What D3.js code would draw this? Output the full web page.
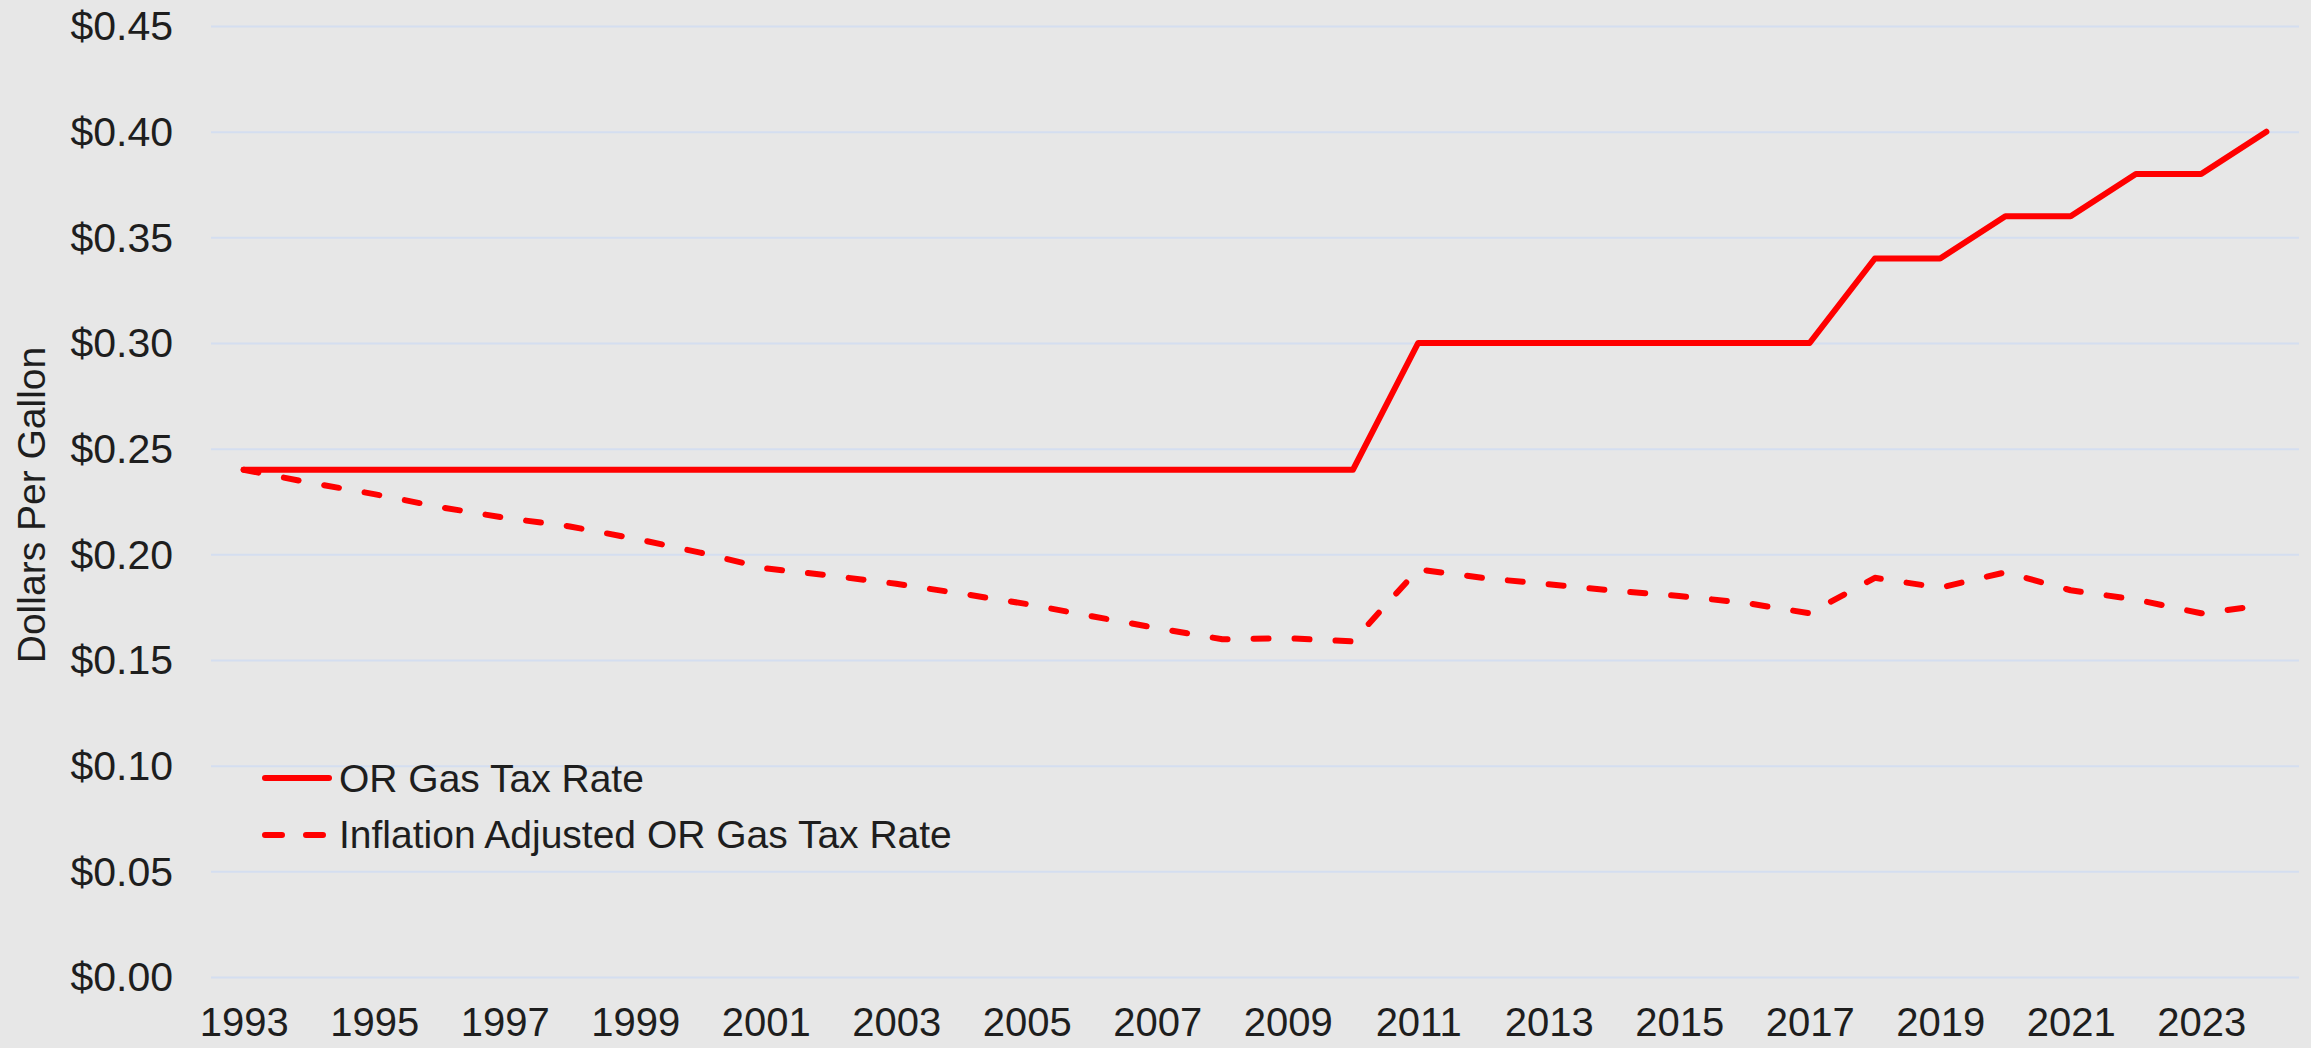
<!DOCTYPE html>
<html>
<head>
<meta charset="utf-8">
<script src="https://cdn.jsdelivr.net/npm/d3@7"></script>
<style>
  html, body { margin: 0; padding: 0; background: #e7e7e7; }
  svg { display: block; }
  text { font-family: "Liberation Sans", Arial, sans-serif; fill: #1e1e1e; }
</style>
</head>
<body>
<div id="chart"></div>
<script>

// years on the category axis
var years = [1993, 1994, 1995, 1996, 1997, 1998, 1999, 2000, 2001, 2002, 2003,
    2004, 2005, 2006, 2007, 2008, 2009, 2010, 2011, 2012, 2013, 2014, 2015,
    2016, 2017, 2018, 2019, 2020, 2021, 2022, 2023, 2024];

// nominal Oregon gas tax, dollars per gallon
var orRate = [0.24, 0.24, 0.24, 0.24, 0.24, 0.24, 0.24, 0.24, 0.24, 0.24, 0.24,
    0.24, 0.24, 0.24, 0.24, 0.24, 0.24, 0.24, 0.30, 0.30, 0.30, 0.30, 0.30,
    0.30, 0.30, 0.34, 0.34, 0.36, 0.36, 0.38, 0.38, 0.40];

// inflation adjusted rate
var inflationRate = [0.240, 0.234, 0.2285, 0.2224, 0.2173, 0.2132, 0.2074, 0.2008,
    0.1934, 0.1899, 0.1861, 0.1814, 0.1765, 0.1707, 0.1651, 0.1598, 0.1603,
    0.1588, 0.1929, 0.1888, 0.1858, 0.1828, 0.1803, 0.1771, 0.1721, 0.1889,
    0.1842, 0.1915, 0.1830, 0.1786, 0.1721, 0.1760];

var yTicks = [0, 0.05, 0.10, 0.15, 0.20, 0.25, 0.30, 0.35, 0.40, 0.45];
var xTickYears = [1993, 1995, 1997, 1999, 2001, 2003, 2005, 2007, 2009, 2011,
    2013, 2015, 2017, 2019, 2021, 2023];

var seriesNames = ["OR Gas Tax Rate", "Inflation Adjusted OR Gas Tax Rate"];

function main() {

    var W = 2311, H = 1048;
    var plot = { left: 211, right: 2299, top: 26, bottom: 977 };

    var svg = d3.select("#chart")
        .append("svg")
        .attr("width", W)
        .attr("height", H);

    svg.append("rect")
        .attr("width", W)
        .attr("height", H)
        .attr("fill", "#e7e7e7");

    // x is a category axis, points sit in the middle of each slot
    var x = d3.scalePoint()
        .domain(years)
        .range([plot.left, plot.right])
        .padding(0.5);

    var y = d3.scaleLinear()
        .domain([0, 0.45])
        .range([plot.bottom, plot.top]);

    // y axis with gridlines
    var yAxis = svg.append("g")
        .attr("transform", "translate(" + plot.left + ",0)")
        .call(d3.axisLeft(y)
            .tickValues(yTicks)
            .tickSize(-(plot.right - plot.left))
            .tickPadding(38)
            .tickFormat(function (d) { return "$" + d.toFixed(2); }));
    yAxis.select(".domain").remove();
    yAxis.selectAll(".tick line")
        .attr("stroke", "#d4def0")
        .attr("stroke-width", 2);
    yAxis.selectAll(".tick text")
        .style("font-size", "41px")
        .attr("dy", "0.34em");

    // x axis labels
    var xAxis = svg.append("g")
        .attr("transform", "translate(0," + plot.bottom + ")")
        .call(d3.axisBottom(x)
            .tickValues(xTickYears)
            .tickSize(0)
            .tickPadding(31));
    xAxis.select(".domain").remove();
    xAxis.selectAll(".tick text")
        .style("font-size", "40px");

    // axis title
    svg.append("text")
        .attr("transform", "translate(45,505) rotate(-90)")
        .attr("text-anchor", "middle")
        .style("font-size", "39px")
        .text("Dollars Per Gallon");

    var line = d3.line()
        .x(function (d) { return x(d.year); })
        .y(function (d) { return y(d.value); });

    var solidData = years.map(function (yr, i) { return { year: yr, value: orRate[i] }; });
    var dashData = years.map(function (yr, i) { return { year: yr, value: inflationRate[i] }; });

    svg.append("path")
        .datum(dashData)
        .attr("d", line)
        .attr("fill", "none")
        .attr("stroke", "#ff0000")
        .attr("stroke-width", 6)
        .attr("stroke-linecap", "round")
        .attr("stroke-linejoin", "round")
        .attr("stroke-dasharray", "15,26");

    svg.append("path")
        .datum(solidData)
        .attr("d", line)
        .attr("fill", "none")
        .attr("stroke", "#ff0000")
        .attr("stroke-width", 6)
        .attr("stroke-linecap", "round")
        .attr("stroke-linejoin", "round");

    // legend
    var legend = svg.append("g");
    legend.append("line")
        .attr("x1", 265).attr("x2", 329)
        .attr("y1", 778).attr("y2", 778)
        .attr("stroke", "#ff0000")
        .attr("stroke-width", 6)
        .attr("stroke-linecap", "round");
    legend.append("line")
        .attr("x1", 265).attr("x2", 329)
        .attr("y1", 835).attr("y2", 835)
        .attr("stroke", "#ff0000")
        .attr("stroke-width", 6)
        .attr("stroke-linecap", "round")
        .attr("stroke-dasharray", "17,24");
    legend.selectAll("text.lbl")
        .data(seriesNames)
        .enter()
        .append("text")
        .attr("class", "lbl")
        .attr("x", 339)
        .attr("y", function (d, i) { return 792 + i * 56; })
        .style("font-size", "39px")
        .text(function (d) { return d; });
}

window.addEventListener('load', main);
</script>
</body>
</html>
